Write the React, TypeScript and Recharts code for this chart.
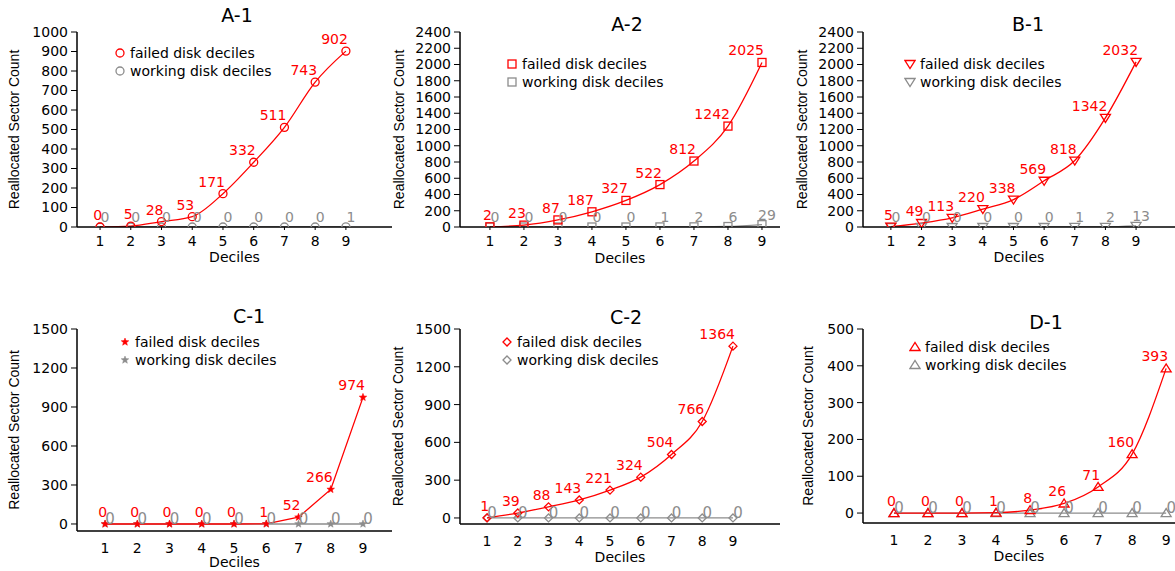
import React from "react";
import { LineChart, Line, XAxis, YAxis, Legend, LabelList } from "recharts";

const DECILES = [1, 2, 3, 4, 5, 6, 7, 8, 9];

const A1_FAILED = [0, 5, 28, 53, 171, 332, 511, 743, 902];
const A1_WORKING = [0, 0, 0, 0, 0, 0, 0, 0, 1];
const A2_FAILED = [2, 23, 87, 187, 327, 522, 812, 1242, 2025];
const A2_WORKING = [0, 0, 0, 0, 0, 1, 2, 6, 29];
const B1_FAILED = [5, 49, 113, 220, 338, 569, 818, 1342, 2032];
const B1_WORKING = [0, 0, 0, 0, 0, 0, 1, 2, 13];
const C1_FAILED = [0, 0, 0, 0, 0, 1, 52, 266, 974];
const C1_WORKING = [0, 0, 0, 0, 0, 0, 0, 0, 0];
const C2_FAILED = [1, 39, 88, 143, 221, 324, 504, 766, 1364];
const C2_WORKING = [0, 0, 0, 0, 0, 0, 0, 0, 0];
const D1_FAILED = [0, 0, 0, 1, 8, 26, 71, 160, 393];
const D1_WORKING = [0, 0, 0, 0, 0, 0, 0, 0, 0];

const TICKS_1000 = [0, 100, 200, 300, 400, 500, 600, 700, 800, 900, 1000];
const TICKS_2400 = [0, 200, 400, 600, 800, 1000, 1200, 1400, 1600, 1800, 2000, 2200, 2400];
const TICKS_1500 = [0, 300, 600, 900, 1200, 1500];
const TICKS_500 = [0, 100, 200, 300, 400, 500];

const RED = "#ff0000";
const GRAY = "#8c8c8c";
const FONT = "'DejaVu Sans', sans-serif";

type Shape = "circle" | "square" | "triDown" | "star" | "diamond" | "triUp";

function Marker({ shape, cx, cy, color }: { shape: Shape; cx: number; cy: number; color: string }) {
  const common = { fill: "none", stroke: color, strokeWidth: 1.3 };
  switch (shape) {
    case "circle":
      return <circle cx={cx} cy={cy} r={4} {...common} />;
    case "square":
      return <rect x={cx - 4} y={cy - 4} width={8} height={8} {...common} />;
    case "triDown":
      return <polygon points={`${cx - 5},${cy - 3.5} ${cx + 5},${cy - 3.5} ${cx},${cy + 4.5}`} {...common} />;
    case "triUp":
      return <polygon points={`${cx - 5},${cy + 3.5} ${cx + 5},${cy + 3.5} ${cx},${cy - 4.5}`} {...common} />;
    case "diamond":
      return <polygon points={`${cx},${cy - 4} ${cx + 4},${cy} ${cx},${cy + 4} ${cx - 4},${cy}`} {...common} />;
    case "star": {
      const pts: string[] = [];
      for (let i = 0; i < 10; i++) {
        const r = i % 2 === 0 ? 4 : 1.7;
        const a = -Math.PI / 2 + (i * Math.PI) / 5;
        pts.push(`${cx + r * Math.cos(a)},${cy + r * Math.sin(a)}`);
      }
      return <polygon points={pts.join(" ")} fill={color} stroke={color} strokeWidth={0.5} />;
    }
  }
  return null;
}

type Layout = {
  left: number;
  right: number;
  top: number;
  bottom: number;
  plotLeft: number;
  plotTop: number;
  plotBottom: number;
  labelBase: number;
  yLabelX: number;
  titleX: number;
  titleY: number;
  legendX: number;
  legendY: number;
  xDomain: [number, number];
  yDomain: [number, number];
  curve: "monotone" | "linear";
};

type PanelProps = {
  title: string;
  failed: number[];
  working: number[];
  yTicks: number[];
  shape: Shape;
  layout: Layout;
};

function Panel({ title, failed, working, yTicks, shape, layout: L }: PanelProps) {
  const data = DECILES.map((d, i) => ({ decile: d, failed: failed[i], working: working[i] }));
  const width = L.right - L.left;
  const height = L.bottom - L.top;
  const xAxisHeight = L.labelBase - L.plotBottom;
  const topRow = L.yDomain[0] === 0;

  const redLabel = (p: any) => (
    <text x={p.x + 2} y={p.y - 7} textAnchor="end" fill={RED} fontSize={14} fontFamily={FONT}>
      {p.value}
    </text>
  );
  const grayLabel = (p: any) => (
    <text
      x={p.x + 5}
      y={p.y - (topRow ? 5 : 0)}
      textAnchor="middle"
      fill={GRAY}
      fontSize={topRow ? 14 : 15}
      fontFamily={FONT}
    >
      {p.value}
    </text>
  );

  const legendRows: [string, string][] = [
    ["failed disk deciles", RED],
    ["working disk deciles", GRAY],
  ];

  return (
    <>
      <div
        style={{
          position: "absolute",
          left: L.titleX,
          top: L.titleY,
          transform: "translate(-50%, -50%)",
          fontFamily: FONT,
          fontSize: 19,
          lineHeight: 1,
          whiteSpace: "nowrap",
          color: "#000",
        }}
      >
        {title}
      </div>
      <div style={{ position: "absolute", left: L.left, top: L.top }}>
        <LineChart
          width={width}
          height={height}
          data={data}
          style={{ overflow: "visible" }}
          margin={{ top: L.plotTop - L.top, right: 0, bottom: L.bottom - L.labelBase, left: 0 }}
        >
          <XAxis
            dataKey="decile"
            type="number"
            domain={L.xDomain}
            ticks={DECILES}
            interval={0}
            allowDataOverflow
            height={xAxisHeight}
            axisLine={{ stroke: "#000", strokeWidth: 1.5 }}
            tickLine={topRow ? { stroke: "#000" } : false}
            tickSize={3}
            tickMargin={topRow ? 6 : 9}
            tick={{ fill: "#000", fontSize: 14, fontFamily: FONT }}
            label={{
              value: "Deciles",
              position: "insideBottom",
              offset: 0,
              style: { fill: "#000", fontSize: 14, fontFamily: FONT },
            }}
          />
          <YAxis
            type="number"
            domain={L.yDomain}
            ticks={yTicks}
            interval={0}
            allowDataOverflow
            width={L.plotLeft - L.left}
            axisLine={{ stroke: "#000", strokeWidth: 1.5 }}
            tickLine={{ stroke: "#000" }}
            tickSize={6}
            tickMargin={3}
            tick={{ fill: "#000", fontSize: 14, fontFamily: FONT }}
            label={{
              value: "Reallocated Sector Count",
              angle: -90,
              position: "insideLeft",
              offset: L.yLabelX - L.left,
              style: { textAnchor: "middle", fill: "#000", fontSize: 14, fontFamily: "'Liberation Sans', Arial, sans-serif" },
            }}
          />
          <Legend
            layout="vertical"
            align="center"
            verticalAlign="middle"
            wrapperStyle={{ left: L.legendX - 6 - L.left, top: L.legendY - 9 - L.top, width: "auto", height: "auto" }}
            content={() => (
              <div style={{ fontFamily: FONT, fontSize: 14, color: "#000", lineHeight: "18px" }}>
                {legendRows.map(([name, color]) => (
                  <div key={name} style={{ display: "flex", alignItems: "center", height: 18, whiteSpace: "nowrap" }}>
                    <svg width={12} height={12} style={{ display: "block" }}>
                      <Marker shape={shape} cx={6} cy={6} color={color} />
                    </svg>
                    <span style={{ marginLeft: 4 }}>{name}</span>
                  </div>
                ))}
              </div>
            )}
          />
          <Line
            dataKey="working"
            name="working disk deciles"
            type={L.curve}
            stroke={GRAY}
            strokeWidth={1.3}
            isAnimationActive={false}
            dot={(p: any) => <Marker key={`w${p.index}`} shape={shape} cx={p.cx} cy={p.cy} color={GRAY} />}
          >
            <LabelList dataKey="working" content={grayLabel} />
          </Line>
          <Line
            dataKey="failed"
            name="failed disk deciles"
            type={L.curve}
            stroke={RED}
            strokeWidth={1.3}
            isAnimationActive={false}
            dot={(p: any) => <Marker key={`f${p.index}`} shape={shape} cx={p.cx} cy={p.cy} color={RED} />}
          >
            <LabelList dataKey="failed" content={redLabel} />
          </Line>
        </LineChart>
      </div>
    </>
  );
}

const LAYOUT_A1: Layout = {
  left: 0, right: 392, top: 0, bottom: 270, plotLeft: 77, plotTop: 32, plotBottom: 227, labelBase: 262,
  yLabelX: 14, titleX: 237, titleY: 15, legendX: 120, legendY: 53, xDomain: [0.25, 10.5], yDomain: [0, 1000], curve: "monotone",
};
const LAYOUT_A2: Layout = {
  left: 390, right: 780, top: 0, bottom: 270, plotLeft: 460, plotTop: 32, plotBottom: 227, labelBase: 263,
  yLabelX: 399, titleX: 627, titleY: 24, legendX: 512, legendY: 64, xDomain: [0.12, 9.53], yDomain: [0, 2400], curve: "monotone",
};
const LAYOUT_B1: Layout = {
  left: 785, right: 1175, top: 0, bottom: 270, plotLeft: 863, plotTop: 32, plotBottom: 227, labelBase: 262,
  yLabelX: 802, titleX: 1028, titleY: 24, legendX: 910, legendY: 64, xDomain: [0.09, 10.27], yDomain: [0, 2400], curve: "monotone",
};
const LAYOUT_C1: Layout = {
  left: 0, right: 392, top: 290, bottom: 571, plotLeft: 77, plotTop: 329, plotBottom: 531, labelBase: 567,
  yLabelX: 14, titleX: 249, titleY: 316, legendX: 125, legendY: 342, xDomain: [0.13, 9.9], yDomain: [-54, 1500], curve: "linear",
};
const LAYOUT_C2: Layout = {
  left: 390, right: 780, top: 290, bottom: 571, plotLeft: 460, plotTop: 329, plotBottom: 524, labelBase: 562,
  yLabelX: 398, titleX: 626, titleY: 317, legendX: 507, legendY: 342, xDomain: [0.12, 10.53], yDomain: [-48, 1500], curve: "monotone",
};
const LAYOUT_D1: Layout = {
  left: 785, right: 1175, top: 290, bottom: 571, plotLeft: 863, plotTop: 329, plotBottom: 523, labelBase: 561,
  yLabelX: 808, titleX: 1046, titleY: 322, legendX: 915, legendY: 347, xDomain: [0.09, 9.26], yDomain: [-27, 500], curve: "monotone",
};

export default function App() {
  return (
    <div style={{ position: "absolute", left: 0, top: 0, width: 1175, height: 571, background: "#fff", overflow: "hidden" }}>
      <Panel title="A-1" failed={A1_FAILED} working={A1_WORKING} yTicks={TICKS_1000} shape="circle" layout={LAYOUT_A1} />
      <Panel title="A-2" failed={A2_FAILED} working={A2_WORKING} yTicks={TICKS_2400} shape="square" layout={LAYOUT_A2} />
      <Panel title="B-1" failed={B1_FAILED} working={B1_WORKING} yTicks={TICKS_2400} shape="triDown" layout={LAYOUT_B1} />
      <Panel title="C-1" failed={C1_FAILED} working={C1_WORKING} yTicks={TICKS_1500} shape="star" layout={LAYOUT_C1} />
      <Panel title="C-2" failed={C2_FAILED} working={C2_WORKING} yTicks={TICKS_1500} shape="diamond" layout={LAYOUT_C2} />
      <Panel title="D-1" failed={D1_FAILED} working={D1_WORKING} yTicks={TICKS_500} shape="triUp" layout={LAYOUT_D1} />
    </div>
  );
}
